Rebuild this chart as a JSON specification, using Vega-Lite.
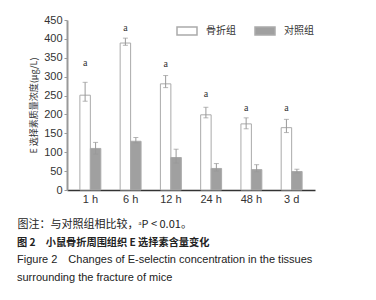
{
  "$schema": "https://vega.github.io/schema/vega-lite/v6.json",
  "width": 248,
  "height": 170,
  "autosize": {"type": "none"},
  "padding": {"left": 67, "top": 20, "right": 61, "bottom": 110},
  "background": "white",
  "config": {
    "view": {"stroke": null},
    "axisY": {
      "labelOverlap": false,
      "tickCount": 10,
      "labelFont": "Liberation Sans",
      "labelFontSize": 11,
      "labelColor": "#333",
      "labelPadding": 2,
      "tickSize": 3,
      "tickColor": "#999",
      "domainColor": "#999",
      "domainWidth": 2,
      "grid": false
    }
  },
  "title": {
    "text": "图 2　小鼠骨折周围组织 E 选择素含量变化",
    "subtitle": ["Figure 2\u2002\u2002Changes of E-selectin concentration in the tissues", "surrounding the fracture of mice"],
    "orient": "bottom",
    "anchor": "start",
    "frame": "group",
    "dx": -50,
    "offset": 9,
    "font": "Noto Sans CJK SC",
    "fontSize": 10.2,
    "fontWeight": "bold",
    "color": "#222",
    "subtitleFont": "Liberation Sans",
    "subtitleFontSize": 11,
    "subtitleColor": "#222",
    "subtitleLineHeight": 18,
    "subtitlePadding": 6
  },
  "data": {
    "values": [
      {"time": "1 h", "group": "骨折组", "value": 251, "lo": 235, "hi": 285, "sig": "a", "sigY": 337},
      {"time": "6 h", "group": "骨折组", "value": 389, "lo": 383, "hi": 402, "sig": "a", "sigY": 430},
      {"time": "12 h", "group": "骨折组", "value": 281, "lo": 271, "hi": 303, "sig": "a", "sigY": 333},
      {"time": "24 h", "group": "骨折组", "value": 199, "lo": 191, "hi": 219, "sig": "a", "sigY": 255},
      {"time": "48 h", "group": "骨折组", "value": 175, "lo": 162, "hi": 191, "sig": "a", "sigY": 218},
      {"time": "3 d", "group": "骨折组", "value": 165, "lo": 152, "hi": 187, "sig": "a", "sigY": 218},
      {"time": "1 h", "group": "对照组", "value": 110, "lo": 95, "hi": 126},
      {"time": "6 h", "group": "对照组", "value": 129, "lo": 125, "hi": 139},
      {"time": "12 h", "group": "对照组", "value": 86, "lo": 71, "hi": 108},
      {"time": "24 h", "group": "对照组", "value": 57, "lo": 50, "hi": 70},
      {"time": "48 h", "group": "对照组", "value": 54, "lo": 48, "hi": 67},
      {"time": "3 d", "group": "对照组", "value": 49, "lo": 45, "hi": 55}
    ]
  },
  "encoding": {
    "x": {
      "field": "time",
      "type": "nominal",
      "sort": ["1 h", "6 h", "12 h", "24 h", "48 h", "3 d"],
      "scale": {"paddingInner": 0.48, "paddingOuter": 0.32},
      "axis": {
        "title": "图注：与对照组相比较，ᵃP < 0.01。",
        "titleFont": "Noto Sans CJK SC",
        "titleFontSize": 11,
        "titleFontWeight": "normal",
        "titleColor": "#222",
        "titleAnchor": "start",
        "titleAlign": "left",
        "titleBaseline": "alphabetic",
        "titleX": -50,
        "titleY": 37,
        "labelAngle": 0,
        "labelFont": "Liberation Sans",
        "labelFontSize": 11,
        "labelColor": "#333",
        "labelPadding": 3,
        "ticks": false,
        "domainColor": "#333",
        "domainWidth": 1.5
      }
    },
    "xOffset": {"field": "group", "type": "nominal", "sort": ["骨折组", "对照组"]}
  },
  "layer": [
    {
      "mark": {"type": "bar", "stroke": "#aaaaaa", "strokeWidth": 1},
      "encoding": {
        "y": {
          "field": "value",
          "type": "quantitative",
          "scale": {"domain": [0, 450], "nice": false},
          "axis": {
            "title": "E 选择素质量浓度(μg/L)",
            "titleFont": "Noto Sans CJK SC",
            "titleFontSize": 9,
            "titleFontWeight": "normal",
            "titleColor": "#333",
            "titlePadding": 5,
            "values": [0, 50, 100, 150, 200, 250, 300, 350, 400, 450],
            "labelOverlap": false
          }
        },
        "fill": {
          "field": "group",
          "type": "nominal",
          "scale": {"domain": ["骨折组", "对照组"], "range": ["#ffffff", "#a0a0a0"]},
          "legend": {
            "title": null,
            "orient": "none",
            "legendX": 109,
            "legendY": 0,
            "direction": "horizontal",
            "symbolType": "M-1,-0.4H1V0.4H-1Z",
            "symbolSize": 400,
            "symbolOpacity": 1,
            "labelFont": "Noto Sans CJK SC",
            "labelFontSize": 10,
            "labelColor": "#333",
            "labelOffset": 8,
            "columnPadding": 16,
            "encode": {"symbols": {"update": {"stroke": {"value": "#222"}, "strokeWidth": {"value": 1.5}}}}
          }
        }
      }
    },
    {
      "mark": {"type": "rule", "color": "#999", "strokeWidth": 1},
      "encoding": {
        "y": {"field": "lo", "type": "quantitative", "axis": {"values": [0, 50, 100, 150, 200, 250, 300, 350, 400, 450], "labelOverlap": false}},
        "y2": {"field": "hi"}
      }
    },
    {
      "mark": {"type": "tick", "color": "#999", "thickness": 1},
      "encoding": {
        "y": {"field": "hi", "type": "quantitative", "axis": {"values": [0, 50, 100, 150, 200, 250, 300, 350, 400, 450], "labelOverlap": false}},
        "size": {"value": 5}
      }
    },
    {
      "mark": {"type": "tick", "color": "#999", "thickness": 1},
      "encoding": {
        "y": {"field": "lo", "type": "quantitative", "axis": {"values": [0, 50, 100, 150, 200, 250, 300, 350, 400, 450], "labelOverlap": false}},
        "size": {"value": 5}
      }
    },
    {
      "transform": [{"filter": "datum.sig"}],
      "mark": {"type": "text", "font": "Liberation Serif", "fontSize": 10, "fill": "#333", "baseline": "middle"},
      "encoding": {
        "y": {"field": "sigY", "type": "quantitative", "axis": {"values": [0, 50, 100, 150, 200, 250, 300, 350, 400, 450], "labelOverlap": false}},
        "text": {"field": "sig"}
      }
    }
  ]
}
